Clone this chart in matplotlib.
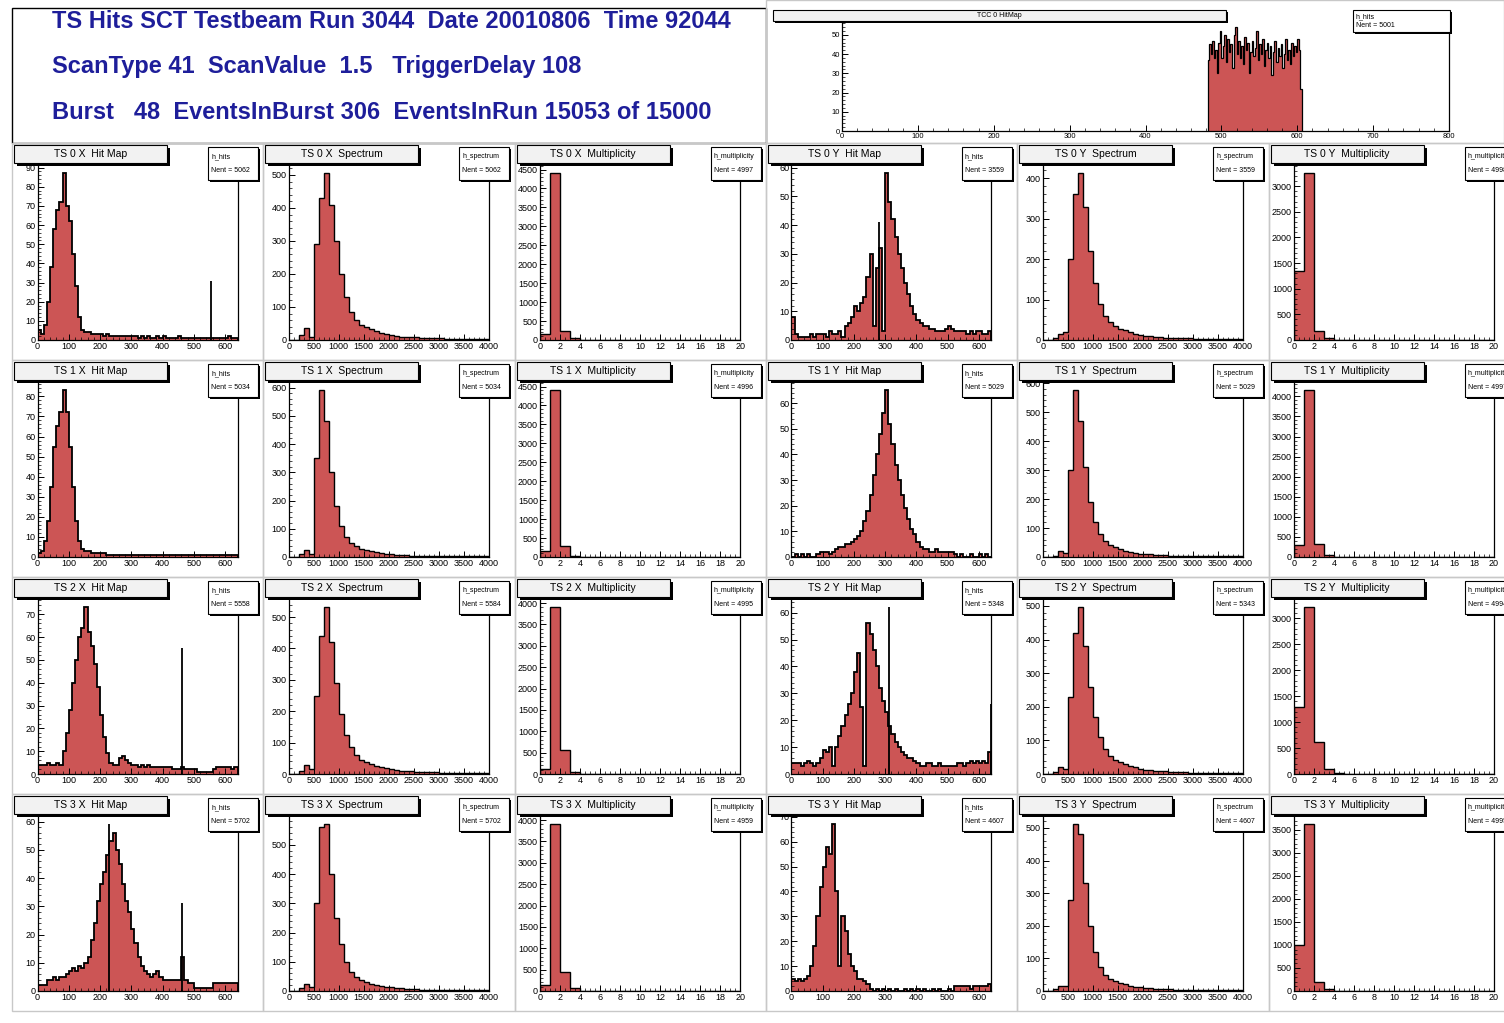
import numpy as np
import matplotlib
matplotlib.use('Agg')
import matplotlib.pyplot as plt
from matplotlib.patches import Rectangle
from matplotlib.ticker import MultipleLocator, AutoMinorLocator

plt.rcParams['font.family'] = ['Liberation Sans', 'DejaVu Sans']

W, H = 1504, 1023
RED = '#cc5555'
BLUE = '#1e1e9a'

# header
header_lines = ['TS Hits SCT Testbeam Run 3044  Date 20010806  Time 92044',
                'ScanType 41  ScanValue  1.5   TriggerDelay 108',
                'Burst   48  EventsInBurst 306  EventsInRun 15053 of 15000']

# top hit map (TCC 0), bins of 2 channels starting at channel 482
top_title = 'TCC 0 HitMap'
top_nent = 5001
top_start = 482
top_hits = [37, 45, 40, 47, 38, 42, 30, 46, 52, 38,
            44, 50, 36, 48, 41, 45, 33, 50, 54, 40,
            47, 38, 44, 35, 49, 42, 46, 30, 41, 47,
            39, 43, 52, 37, 45, 40, 48, 34, 42, 46,
            38, 44, 29, 41, 47, 36, 43, 39, 45, 33,
            40, 48, 37, 42, 35, 46, 39, 44, 41, 48,
            42, 22]

# hit maps, 64 bins of 10 channels (0-640)
hit_0x = [5, 3, 8, 20, 38, 58, 68, 72, 87, 70,
          62, 45, 28, 12, 5, 4, 4, 3, 3, 3,
          3, 2, 3, 2, 2, 2, 2, 2, 2, 2,
          2, 2, 1, 2, 1, 2, 1, 1, 2, 1,
          2, 1, 1, 1, 1, 2, 1, 1, 1, 1,
          1, 1, 1, 1, 1, 1, 1, 1, 1, 1,
          1, 2, 1, 1]
hit_0y = [8, 2, 1, 1, 1, 1, 2, 1, 2, 2,
          2, 1, 3, 2, 2, 3, 1, 5, 6, 8,
          12, 10, 13, 15, 22, 30, 5, 25, 32, 3,
          58, 48, 42, 36, 30, 25, 20, 16, 12, 9,
          7, 6, 5, 5, 4, 4, 3, 3, 3, 4,
          5, 4, 3, 3, 3, 3, 2, 3, 2, 3,
          3, 2, 2, 3]
hit_1x = [2, 3, 8, 18, 35, 55, 65, 72, 83, 72,
          55, 35, 18, 8, 4, 3, 3, 2, 2, 2,
          2, 2, 1, 1, 1, 1, 1, 1, 1, 1,
          1, 1, 1, 1, 1, 1, 1, 1, 1, 1,
          1, 1, 1, 1, 1, 1, 1, 1, 1, 1,
          1, 1, 1, 1, 1, 1, 1, 1, 1, 1,
          1, 1, 1, 1]
hit_1y = [0, 1, 0, 1, 0, 1, 0, 0, 1, 2,
          2, 2, 1, 2, 3, 4, 4, 5, 5, 6,
          7, 8, 10, 14, 18, 24, 32, 40, 48, 56,
          65, 52, 44, 36, 30, 24, 19, 15, 11, 9,
          6, 4, 3, 3, 2, 2, 3, 2, 2, 2,
          2, 2, 1, 0, 1, 0, 0, 1, 0, 0,
          1, 0, 1, 0]
hit_2x = [4, 4, 4, 5, 4, 4, 5, 4, 10, 18,
          28, 40, 50, 60, 64, 73, 62, 56, 48, 38,
          26, 16, 9, 5, 4, 4, 7, 8, 6, 5,
          4, 4, 3, 4, 3, 4, 3, 3, 3, 3,
          3, 3, 3, 2, 2, 2, 3, 2, 2, 2,
          2, 1, 1, 1, 1, 1, 2, 3, 3, 3,
          3, 3, 2, 3]
hit_2y = [4, 4, 4, 3, 4, 5, 4, 3, 4, 6,
          9, 8, 10, 3, 10, 14, 18, 22, 26, 30,
          38, 45, 25, 3, 56, 52, 46, 40, 32, 27,
          23, 18, 15, 12, 10, 8, 7, 6, 6, 5,
          4, 3, 3, 4, 4, 3, 3, 4, 3, 3,
          3, 3, 3, 4, 4, 3, 4, 5, 4, 5,
          4, 5, 4, 8]
hit_3x = [2, 2, 2, 4, 4, 5, 4, 5, 5, 6,
          7, 8, 7, 9, 8, 10, 12, 18, 24, 32,
          38, 42, 48, 53, 56, 50, 45, 38, 32, 28,
          22, 17, 12, 9, 7, 6, 5, 6, 7, 5,
          4, 4, 4, 4, 4, 4, 12, 4, 3, 3,
          1, 1, 1, 1, 1, 1, 3, 3, 3, 3,
          3, 3, 3, 3]
hit_3y = [5, 4, 5, 4, 5, 6, 10, 18, 30, 42,
          50, 58, 55, 67, 40, 10, 30, 24, 15, 10,
          8, 5, 5, 4, 3, 1, 0, 1, 0, 1,
          0, 1, 0, 1, 0, 0, 1, 0, 1, 0,
          1, 0, 1, 0, 0, 1, 0, 1, 0, 0,
          1, 0, 2, 2, 2, 2, 2, 1, 2, 2,
          2, 2, 2, 3]

# single hot channels (channel, counts)
spikes_0x = [(556, 31)]
spikes_0y = [(280, 41)]
spikes_1x = []
spikes_1y = []
spikes_2x = [(463, 55)]
spikes_2y = [(312, 62), (638, 26)]
spikes_3x = [(230, 59), (463, 31)]
spikes_3y = []

# spectra, 40 bins of 100 (0-4000)
spec_0x = [0, 0, 15, 35, 10, 290, 430, 505, 410, 300, 200, 130, 85, 60, 45, 38, 33, 28, 22, 18,
           15, 12, 10, 9, 8, 8, 7, 6, 5, 5, 5, 4, 4, 4, 3, 3, 3, 3, 3, 3]
spec_0y = [0, 0, 5, 15, 20, 200, 360, 412, 330, 220, 140, 90, 60, 45, 35, 28, 24, 20, 16, 13,
           10, 9, 8, 7, 6, 5, 5, 4, 4, 4, 3, 3, 3, 3, 2, 2, 2, 2, 2, 2]
spec_1x = [0, 0, 10, 25, 10, 350, 590, 480, 300, 180, 110, 70, 50, 38, 30, 25, 20, 17, 14, 12,
           10, 8, 7, 6, 5, 5, 4, 4, 3, 3, 3, 3, 2, 2, 2, 2, 2, 2, 2, 2]
spec_1y = [0, 0, 5, 20, 15, 300, 575, 470, 310, 190, 120, 80, 55, 42, 35, 28, 22, 18, 15, 12,
           10, 9, 8, 7, 6, 5, 5, 4, 4, 3, 3, 3, 3, 2, 2, 2, 2, 2, 2, 2]
spec_2x = [0, 0, 10, 30, 15, 250, 440, 531, 420, 290, 190, 125, 85, 60, 45, 38, 32, 27, 22, 18,
           15, 12, 10, 9, 8, 7, 6, 6, 5, 5, 4, 4, 4, 3, 3, 3, 3, 3, 3, 3]
spec_2y = [0, 0, 5, 20, 15, 230, 420, 496, 380, 260, 170, 110, 75, 55, 42, 35, 30, 25, 20, 16,
           13, 11, 10, 9, 8, 7, 6, 5, 5, 4, 4, 4, 3, 3, 3, 3, 3, 3, 3, 3]
spec_3x = [0, 0, 10, 25, 15, 300, 560, 570, 400, 250, 160, 100, 65, 48, 38, 30, 25, 20, 17, 14,
           12, 10, 9, 8, 7, 6, 5, 5, 4, 4, 4, 3, 3, 3, 3, 3, 3, 3, 3, 3]
spec_3y = [0, 0, 5, 15, 15, 280, 511, 480, 330, 200, 120, 75, 50, 38, 30, 24, 20, 16, 13, 11,
           9, 8, 7, 6, 5, 5, 4, 4, 4, 3, 3, 3, 3, 2, 2, 2, 2, 2, 2, 2]

# multiplicity, 20 bins (0-20)
mult_0x = [150, 4400, 250, 40, 8, 4, 2, 1, 1, 0, 0, 0, 0, 0, 0, 0, 0, 0, 0, 0]
mult_0y = [1350, 3250, 180, 40, 6, 2, 1, 0, 0, 0, 0, 0, 0, 0, 0, 0, 0, 0, 0, 0]
mult_1x = [150, 4400, 280, 35, 8, 3, 1, 1, 0, 0, 0, 0, 0, 0, 0, 0, 0, 0, 0, 0]
mult_1y = [300, 4150, 330, 40, 8, 3, 1, 0, 0, 0, 0, 0, 0, 0, 0, 0, 0, 0, 0, 0]
mult_2x = [120, 3900, 560, 50, 10, 4, 2, 1, 0, 0, 0, 0, 0, 0, 0, 0, 0, 0, 0, 0]
mult_2y = [1300, 3210, 620, 100, 15, 5, 2, 1, 0, 0, 0, 0, 0, 0, 0, 0, 0, 0, 0, 0]
mult_3x = [150, 3900, 450, 60, 10, 4, 2, 1, 0, 0, 0, 0, 0, 0, 0, 0, 0, 0, 0, 0]
mult_3y = [1000, 3620, 200, 45, 8, 3, 1, 0, 0, 0, 0, 0, 0, 0, 0, 0, 0, 0, 0, 0]

nent_hits = {'0x': 5062, '0y': 3559, '1x': 5034, '1y': 5029, '2x': 5558, '2y': 5348, '3x': 5702, '3y': 4607}
nent_spec = {'0x': 5062, '0y': 3559, '1x': 5034, '1y': 5029, '2x': 5584, '2y': 5343, '3x': 5702, '3y': 4607}
nent_mult = {'0x': 4997, '0y': 4998, '1x': 4996, '1y': 4997, '2x': 4995, '2y': 4994, '3x': 4959, '3y': 4995}

hits = {'0x': hit_0x, '0y': hit_0y, '1x': hit_1x, '1y': hit_1y,
        '2x': hit_2x, '2y': hit_2y, '3x': hit_3x, '3y': hit_3y}
spikes = {'0x': spikes_0x, '0y': spikes_0y, '1x': spikes_1x, '1y': spikes_1y,
          '2x': spikes_2x, '2y': spikes_2y, '3x': spikes_3x, '3y': spikes_3y}
specs = {'0x': spec_0x, '0y': spec_0y, '1x': spec_1x, '1y': spec_1y,
         '2x': spec_2x, '2y': spec_2y, '3x': spec_3x, '3y': spec_3y}
mults = {'0x': mult_0x, '0y': mult_0y, '1x': mult_1x, '1y': mult_1y,
         '2x': mult_2x, '2y': mult_2y, '3x': mult_3x, '3y': mult_3y}

fig = plt.figure(figsize=(W / 100, H / 100), dpi=100)
fig.patch.set_facecolor('white')


def px_axes(left, top, width, height):
    return fig.add_axes([left / W, 1 - (top + height) / H, width / W, height / H])


def style(ax, xmax, ymax, xmaj, ymaj, xmin_div, ymin_div, size=6.5):
    ax.set_xlim(0, xmax)
    ax.set_ylim(0, ymax)
    ax.spines['top'].set_visible(False)
    for s in ax.spines.values():
        s.set_linewidth(0.9)
    ax.xaxis.set_major_locator(MultipleLocator(xmaj))
    ax.yaxis.set_major_locator(MultipleLocator(ymaj))
    ax.xaxis.set_minor_locator(AutoMinorLocator(xmin_div))
    ax.yaxis.set_minor_locator(AutoMinorLocator(ymin_div))
    ax.tick_params(which='both', direction='in', top=False, right=False,
                   labelsize=size, pad=1.5)
    ax.tick_params(which='major', length=4, width=0.7)
    ax.tick_params(which='minor', length=2, width=0.5)


def draw_hist(ax, vals, x0, x1, lw=1.0):
    vals = np.asarray(vals, float)
    edges = np.linspace(x0, x1, len(vals) + 1)
    ax.stairs(vals, edges, fill=True, color=RED, lw=0)
    ax.stairs(vals, edges, color='k', lw=lw)
    return vals.max()


# overlay in pixel coordinates for boxes and texts
ov = fig.add_axes([0, 0, 1, 1], zorder=10)
ov.set_xlim(0, W)
ov.set_ylim(H, 0)
ov.axis('off')
ov.patch.set_visible(False)


def box(x, y, w, h, face, shadow=3):
    ov.add_patch(Rectangle((x + shadow, y + shadow), w, h, facecolor='k', lw=0))
    r = Rectangle((x, y), w, h, facecolor=face, edgecolor='k', lw=0.8)
    ov.add_patch(r)
    return r


def stats(x, y, w, h, name, nent, size=5):
    r = box(x, y, w, h, 'white', shadow=2)
    t1 = ov.text(x + 3, y + h * 0.3, name, fontsize=size, va='center', ha='left')
    t2 = ov.text(x + 3, y + h * 0.72, 'Nent = %d' % nent, fontsize=size, va='center', ha='left')
    t1.set_clip_path(r)
    t2.set_clip_path(r)


# header box
ov.add_patch(Rectangle((12, 8), 754, 135, facecolor='white', edgecolor='k', lw=1))
for i, line in enumerate(header_lines):
    ov.text(52, 28 + i * 45.5, line, fontsize=17, fontweight='bold', color=BLUE,
            va='baseline', ha='left')

# top right hit map
ov.add_patch(Rectangle((766, 0), 738, 143, facecolor='none', edgecolor='#c8c8c8', lw=1))
ax = px_axes(842, 22, 607, 109)
top_vals = np.asarray(top_hits, float)
top_edges = top_start + 2 * np.arange(len(top_vals) + 1)
ax.stairs(top_vals, top_edges, fill=True, color=RED, lw=0)
ax.stairs(top_vals, top_edges, color='k', lw=0.9)
style(ax, 800, 1.05 * top_vals.max(), 100, 10, 5, 5, size=5.5)
ax.yaxis.set_minor_locator(MultipleLocator(2))
box(773, 10, 453, 11, '#f2f2f2', shadow=2)
ov.text(773 + 453 / 2, 15.5, top_title, fontsize=5, ha='center', va='center')
stats(1353, 10, 97, 22, 'h_hits', top_nent)

# grid of 24 pads
for r in range(4):
    for side, axis in enumerate(['x', 'y']):
        key = '%d%s' % (r, axis)
        label = 'TS %d %s' % (r, axis.upper())
        for k in range(3):
            c = side * 3 + k
            pl = 12 + c * 251.3
            pt = 143 + r * 217
            ov.add_patch(Rectangle((pl, pt), 251.3, 217, facecolor='none',
                                   edgecolor='#c8c8c8', lw=1))
            ax = px_axes(pl + 25.5, pt + 22, 200, 175)
            if k == 0:
                vmax = draw_hist(ax, hits[key], 0, 640, lw=1.3)
                for ch, h in spikes[key]:
                    ax.vlines(ch, 0, h, colors='k', lw=1.3)
                    vmax = max(vmax, h)
                style(ax, 640, 1.05 * vmax, 100, 10, 5, 5)
                title = label + '  Hit Map'
                sname, nent = 'h_hits', nent_hits[key]
            elif k == 1:
                vmax = draw_hist(ax, specs[key], 0, 4000)
                style(ax, 4000, 1.05 * vmax, 500, 100, 5, 5)
                title = label + '  Spectrum'
                sname, nent = 'h_spectrum', nent_spec[key]
            else:
                vmax = draw_hist(ax, mults[key], 0, 20)
                style(ax, 20, 1.05 * vmax, 2, 500, 4, 5)
                title = label + '  Multiplicity'
                sname, nent = 'h_multiplicity', nent_mult[key]
            box(pl + 2, pt + 2, 153, 18, '#f2f2f2', shadow=3)
            ov.text(pl + 2 + 76.5, pt + 11, title, fontsize=7.5, ha='center', va='center')
            stats(pl + 196, pt + 4, 50, 33, sname, nent)

fig.savefig('out.png', dpi=100)
